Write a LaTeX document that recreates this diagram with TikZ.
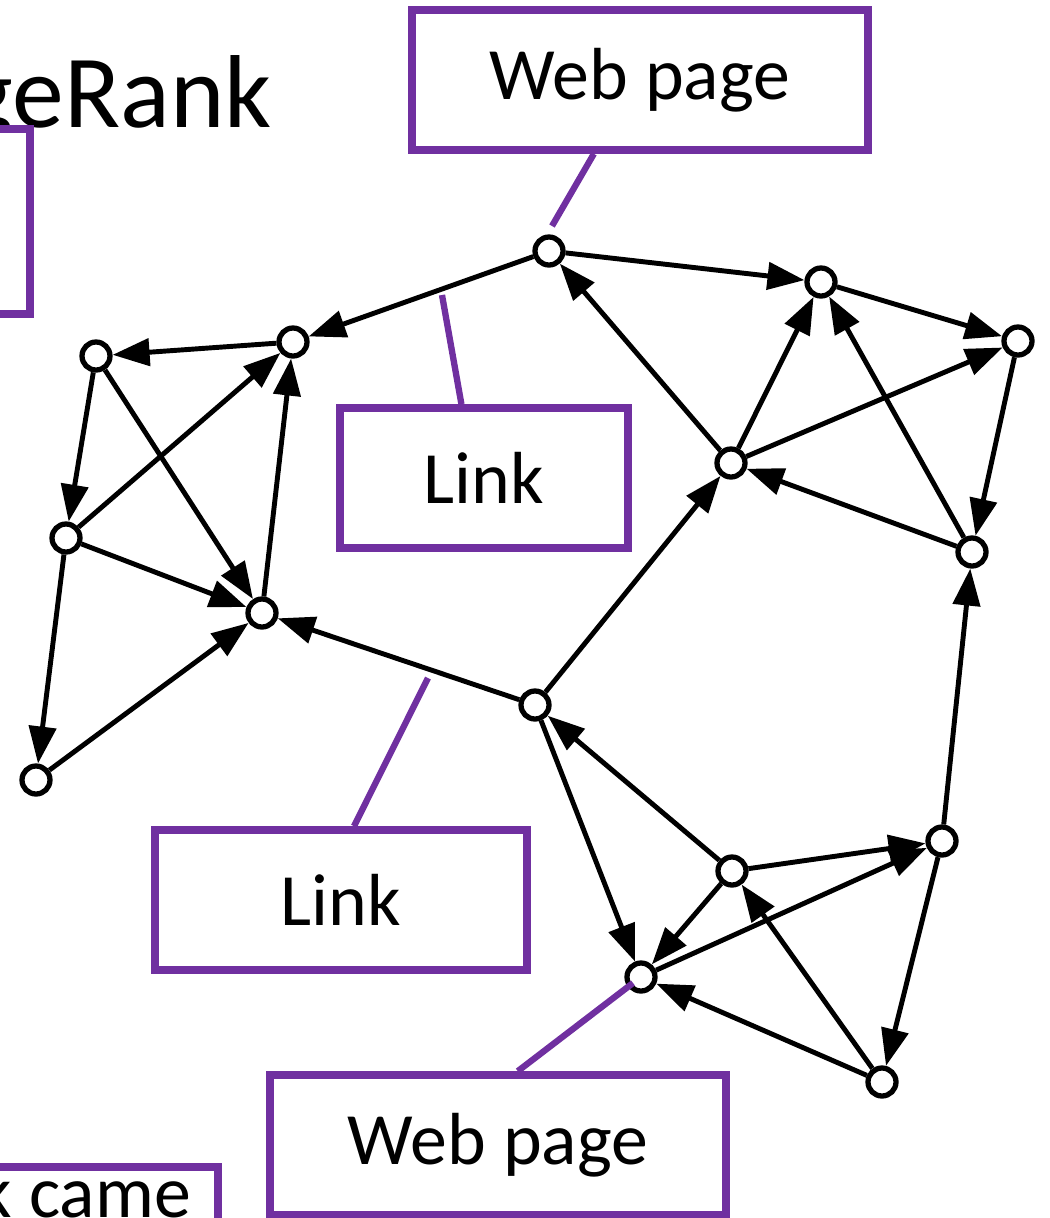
\documentclass[tikz,border=0pt]{standalone}
\usepackage{fontspec}
\setmainfont{Carlito}
\definecolor{calloutpurple}{RGB}{112, 48, 160}
\usetikzlibrary{arrows.meta, positioning}

\begin{document}
\begin{tikzpicture}[x=0.02cm, y=-0.02cm,
  page/.style={circle, draw, fill=white, line width=3pt, minimum size=0.56cm, inner sep=0pt},
  link/.style={line width=2.8pt, -{Triangle[length=0.74cm, width=0.54cm]}},
  tag/.style={draw=calloutpurple, fill=white, line width=4.4pt, minimum height=2.8cm, inner sep=0pt, font=\fontsize{42}{50}\selectfont},
  leader/.style={draw=calloutpurple, line width=3.6pt}]
  \useasboundingbox (0,0) rectangle (1050,1218);
  \clip (0,0) rectangle (1050,1218);

  % title, cut off at the left
  \node[anchor=base east, inner sep=0pt, font=\fontsize{59}{70}\selectfont] (title) at (272,127) {geRank};

  % pages
  \node[page] (p1) at (549,251) {};
  \node[page] (p2) at (821,282) {};
  \node[page] (p3) at (1018,341) {};
  \node[page] (p4) at (293,342) {};
  \node[page] (p5) at (96,356) {};
  \node[page] (p6) at (731,463) {};
  \node[page] (p7) at (972,552) {};
  \node[page] (p8) at (66,538) {};
  \node[page] (p9) at (262,613) {};
  \node[page] (p10) at (535,705) {};
  \node[page] (p11) at (36,780) {};
  \node[page] (p12) at (942,841) {};
  \node[page] (p13) at (732,871) {};
  \node[page] (p14) at (641,977) {};
  \node[page] (p15) at (882,1082) {};

  % links
  \draw[link] (p1) -- (p2);
  \draw[link] (p1) -- (p4);
  \draw[link] (p2) -- (p3);
  \draw[link] (p4) -- (p5);
  \draw[link] (p5) -- (p8);
  \draw[link] (p5) -- (p9);
  \draw[link] (p8) -- (p4);
  \draw[link] (p8) -- (p9);
  \draw[link] (p8) -- (p11);
  \draw[link] (p11) -- (p9);
  \draw[link] (p9) -- (p4);
  \draw[link] (p10) -- (p9);
  \draw[link] (p10) -- (p6);
  \draw[link] (p10) -- (p14);
  \draw[link] (p13) -- (p10);
  \draw[link] (p6) -- (p1);
  \draw[link] (p6) -- (p2);
  \draw[link] (p6) -- (p3);
  \draw[link] (p7) -- (p6);
  \draw[link] (p7) -- (p2);
  \draw[link] (p3) -- (p7);
  \draw[link] (p12) -- (p7);
  \draw[link] (p13) -- (p12);
  \draw[link] (p14) -- (p12);
  \draw[link] (p13) -- (p14);
  \draw[link] (p15) -- (p13);
  \draw[link] (p15) -- (p14);
  \draw[link] (p12) -- (p15);

  % callout boxes
  \node[tag, minimum width=7.2cm, minimum height=3.7cm] (lefttag) at (-150,221.5) {};
  \node[tag, minimum width=7.2cm, anchor=north east] (cametag) at (222,1163) {};
  \node[anchor=base east, inner sep=0pt, font=\fontsize{42}{50}\selectfont] (cametext) at (191,1217) {k came};
  \node[tag, minimum width=9.12cm] (webtop) at (640,80) {Web page};
  \node[tag, minimum width=5.76cm] (link1) at (484,478) {Link};
  \node[tag, minimum width=7.44cm] (link2) at (341,900) {Link};
  \node[tag, minimum width=9.12cm] (webbot) at (498,1145) {Web page};

  \coordinate (tiptop) at (552,226);
  \coordinate (tiplink1) at (442,295);
  \coordinate (tiplink2) at (428,678);
  \coordinate (tipbot) at (633,983);
  \draw[leader] (webtop.238) -- (tiptop);
  \draw[leader] (link1.107) -- (tiplink1);
  \draw[leader] (link2.80) -- (tiplink2);
  \draw[leader] (webbot.75) -- (tipbot);
\end{tikzpicture}
\end{document}
